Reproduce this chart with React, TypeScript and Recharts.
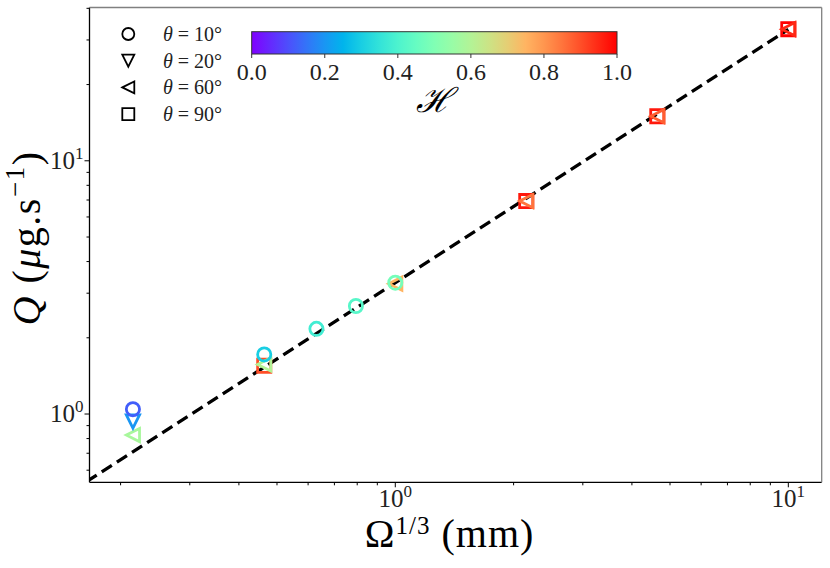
import { Scatter, ScatterChart, XAxis, YAxis } from 'recharts'

// Ω^{1/3} (mm) and Q (µg/s) per contact angle, with the H value used for colour
const OMEGA_CIRCLE = [0.215, 0.464, 0.63, 0.794, 1.0]
const Q_CIRCLE = [1.045, 1.72, 2.17, 2.67, 3.3]
const H_CIRCLE = [0.12, 0.3, 0.38, 0.42, 0.48]

const OMEGA_DOWN = [0.215]
const Q_DOWN = [0.935]
const H_DOWN = [0.2]

const OMEGA_LEFT = [0.215, 0.464, 1.0, 2.154, 4.642, 10]
const Q_LEFT = [0.826, 1.57, 3.27, 6.93, 15.0, 33.1]
const H_LEFT = [0.58, 0.6, 0.75, 0.85, 0.88, 0.95]

const OMEGA_SQUARE = [0.464, 2.154, 4.642, 10]
const Q_SQUARE = [1.55, 6.93, 15.0, 33.1]
const H_SQUARE = [0.9, 0.97, 0.97, 1.0]

const FIT_X = [0.15, 10]
const FIT_Y = [0.495, 33]

const X_TICKS = [0.2, 0.3, 0.4, 0.5, 0.6, 0.7, 0.8, 0.9, 1, 2, 3, 4, 5, 6, 7, 8, 9, 10]
const Y_TICKS = [0.6, 0.7, 0.8, 0.9, 1, 2, 3, 4, 5, 6, 7, 8, 9, 10, 20, 30, 40]
const MAJOR: Record<number, string> = { 1: '0', 10: '1' }

const LEGEND_LABELS = ['10°', '20°', '60°', '90°']
const CBAR_TICKS = [0, 0.2, 0.4, 0.6, 0.8, 1.0]

const W = 830
const H = 568
const Y_AXIS_W = 60
const X_AXIS_H = 40
const PLOT_LEFT = 89.5
const PLOT_RIGHT = 821.7
const PLOT_TOP = 7.5
const PLOT_BOTTOM = 482.3
const MARGIN = {
  top: PLOT_TOP,
  right: W - PLOT_RIGHT,
  bottom: H - PLOT_BOTTOM - X_AXIS_H,
  left: PLOT_LEFT - Y_AXIS_W,
}
const FONT = '"Liberation Serif", "DejaVu Serif", serif'

// matplotlib 'rainbow' colormap
function rainbow(h: number) {
  const r = Math.min(1, Math.abs(2 * h - 0.5))
  const g = Math.max(0, Math.sin(Math.PI * h))
  const b = Math.max(0, Math.cos((Math.PI * h) / 2))
  return `rgb(${Math.round(r * 255)},${Math.round(g * 255)},${Math.round(b * 255)})`
}

const zip = (xs: number[], ys: number[], hs: number[]) =>
  xs.map((x, i) => ({ x, y: ys[i], h: hs[i] }))

type Kind = 'circle' | 'down' | 'left' | 'square'

function markerPath(kind: Kind, cx: number, cy: number, r: number) {
  if (kind === 'down') return `M${cx - r},${cy - r}L${cx + r},${cy - r}L${cx},${cy + r}Z`
  if (kind === 'left') return `M${cx - r},${cy}L${cx + r},${cy - r}L${cx + r},${cy + r}Z`
  return `M${cx - r},${cy - r}H${cx + r}V${cy + r}H${cx - r}Z`
}

function Marker({ kind, cx, cy, color, r, sw }: { kind: Kind; cx: number; cy: number; color: string; r: number; sw: number }) {
  if (kind === 'circle') return <circle cx={cx} cy={cy} r={r} fill="none" stroke={color} strokeWidth={sw} />
  return <path d={markerPath(kind, cx, cy, r)} fill="none" stroke={color} strokeWidth={sw} strokeLinejoin="miter" />
}

const shapeFor = (kind: Kind) => (p: any) =>
  <Marker kind={kind} cx={p.cx} cy={p.cy} color={rainbow(p.payload.h)} r={6.6} sw={2.8} />

function XTick(props: any) {
  const { x, payload } = props
  const exp = MAJOR[payload.value]
  return (
    <g>
      <line x1={x} x2={x} y1={PLOT_BOTTOM} y2={PLOT_BOTTOM + (exp ? 5 : 3)} stroke="#000" strokeWidth={1} />
      {exp && (
        <text x={x} y={PLOT_BOTTOM + 25} textAnchor="middle" fontFamily={FONT} fontSize={25} fill="#222">
          10<tspan dy={-10} fontSize={17}>{exp}</tspan>
        </text>
      )}
    </g>
  )
}

function YTick(props: any) {
  const { y, payload } = props
  const exp = MAJOR[payload.value]
  return (
    <g>
      <line x1={PLOT_LEFT} x2={PLOT_LEFT - (exp ? 5 : 3)} y1={y} y2={y} stroke="#000" strokeWidth={1} />
      {exp && (
        <text x={PLOT_LEFT - 6} y={y + 8} textAnchor="end" fontFamily={FONT} fontSize={25} fill="#222">
          10<tspan dy={-10} fontSize={17}>{exp}</tspan>
        </text>
      )}
    </g>
  )
}

const CB = { x: 251.7, y: 31.7, w: 365.3, h: 22.3 }
const LEGEND_KINDS: Kind[] = ['circle', 'down', 'left', 'square']

function Overlay() {
  return (
    <svg width={W} height={H} style={{ position: 'absolute', left: 0, top: 0, pointerEvents: 'none' }}>
      <defs>
        <linearGradient id="rainbow" x1="0" x2="1" y1="0" y2="0">
          {Array.from({ length: 21 }, (_, i) => i / 20).map((t) => (
            <stop key={t} offset={t} stopColor={rainbow(t)} />
          ))}
        </linearGradient>
      </defs>
      {/* top and right spines */}
      <line x1={PLOT_LEFT} x2={PLOT_RIGHT} y1={PLOT_TOP} y2={PLOT_TOP} stroke="#808080" strokeWidth={1.3} />
      <line x1={PLOT_RIGHT} x2={PLOT_RIGHT} y1={PLOT_TOP} y2={PLOT_BOTTOM} stroke="#808080" strokeWidth={1.3} />

      {/* marker legend */}
      {LEGEND_LABELS.map((lab, i) => {
        const cy = 34 + i * 26.7
        return (
          <g key={lab}>
            <Marker kind={LEGEND_KINDS[i]} cx={128.3} cy={cy} color="#000" r={6} sw={1.8} />
            <text x={163} y={cy + 7} fontFamily={FONT} fontSize={20} fill="#222">
              <tspan fontStyle="italic">θ</tspan> = {lab}
            </text>
          </g>
        )
      })}

      {/* colour bar */}
      <rect x={CB.x} y={CB.y} width={CB.w} height={CB.h} fill="url(#rainbow)" stroke="#333" strokeWidth={1} />
      {CBAR_TICKS.map((t) => {
        const x = CB.x + t * CB.w
        return (
          <g key={t}>
            <line x1={x} x2={x} y1={CB.y + CB.h} y2={CB.y + CB.h + 4} stroke="#333" />
            <text x={x} y={80} textAnchor="middle" fontFamily={FONT} fontSize={24} fill="#222">
              {t.toFixed(1)}
            </text>
          </g>
        )
      })}
      <text x={CB.x + CB.w / 2} y={112} textAnchor="middle" fontFamily={FONT} fontSize={34} fontStyle="italic" fill="#000">
        ℋ
      </text>

      {/* axis titles */}
      <text
        x={(PLOT_LEFT + PLOT_RIGHT) / 2 - 6}
        y={547}
        textAnchor="middle"
        fontFamily={FONT}
        fontSize={40}
        letterSpacing={1}
        fill="#000"
      >
        Ω<tspan dy={-13} fontSize={25}>1/3</tspan>
        <tspan dy={13}> (mm)</tspan>
      </text>
      <text
        transform={`translate(40,238) rotate(-90)`}
        textAnchor="middle"
        fontFamily={FONT}
        fontSize={40}
        letterSpacing={1.5}
        fill="#000"
      >
        <tspan fontStyle="italic">Q</tspan> (<tspan fontStyle="italic">μ</tspan>g.s
        <tspan dy={-16} fontSize={27}>−1</tspan>
        <tspan dy={16}>)</tspan>
      </text>
    </svg>
  )
}

export default function App() {
  return (
    <div style={{ position: 'absolute', left: 0, top: 0, width: W, height: H, background: '#fff' }}>
      <ScatterChart width={W} height={H} margin={MARGIN}>
        <XAxis
          type="number"
          dataKey="x"
          scale="log"
          domain={[0.1667, 12.16]}
          allowDataOverflow
          ticks={X_TICKS}
          interval={0}
          height={X_AXIS_H}
          tickLine={false}
          axisLine={{ stroke: '#000', strokeWidth: 1.3 }}
          tick={XTick}
        />
        <YAxis
          type="number"
          dataKey="y"
          scale="log"
          domain={[0.5375, 40.3]}
          allowDataOverflow
          ticks={Y_TICKS}
          interval={0}
          width={Y_AXIS_W}
          tickLine={false}
          axisLine={{ stroke: '#000', strokeWidth: 1.3 }}
          tick={YTick}
        />
        <Scatter
          data={FIT_X.map((x, i) => ({ x, y: FIT_Y[i] }))}
          line={{ stroke: '#000', strokeWidth: 3.3, strokeDasharray: '12 6' }}
          shape={() => <g />}
          isAnimationActive={false}
        />
        <Scatter data={zip(OMEGA_SQUARE, Q_SQUARE, H_SQUARE)} shape={shapeFor('square')} isAnimationActive={false} />
        <Scatter data={zip(OMEGA_LEFT, Q_LEFT, H_LEFT)} shape={shapeFor('left')} isAnimationActive={false} />
        <Scatter data={zip(OMEGA_DOWN, Q_DOWN, H_DOWN)} shape={shapeFor('down')} isAnimationActive={false} />
        <Scatter data={zip(OMEGA_CIRCLE, Q_CIRCLE, H_CIRCLE)} shape={shapeFor('circle')} isAnimationActive={false} />
      </ScatterChart>
      <Overlay />
    </div>
  )
}
